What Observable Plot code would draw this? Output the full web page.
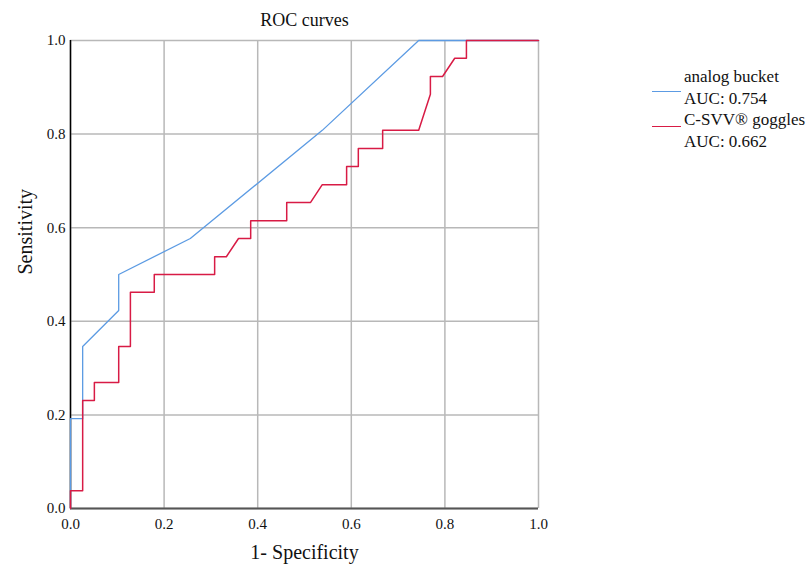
<!DOCTYPE html>
<html>
<head>
<meta charset="utf-8">
<script src="https://cdn.jsdelivr.net/npm/d3@7"></script>
<script src="https://cdn.jsdelivr.net/npm/@observablehq/plot@0.6"></script>
<style>
  html, body { margin: 0; padding: 0; background: #fff; }
  #wrap { position: relative; width: 810px; height: 564px; font-family: "Liberation Serif", "Times New Roman", serif; }
  #legend { position: absolute; left: 650px; top: 66px; font-size: 17px; line-height: 21.5px; color: #111; font-family: "Liberation Serif", serif; }
  .row { position: relative; padding-left: 34px; white-space: nowrap; }
  .sw { position: absolute; left: 2px; width: 29px; height: 0; border-top: 1.5px solid; }
</style>
</head>
<body>
<div id="wrap"></div>
<script>
// Data
const blueName = "analog bucket";
const blueAUC = "AUC: 0.754";
const blueX = [0, 0, 0.026, 0.026, 0.103, 0.103, 0.256, 0.538, 0.744, 1.0];
const blueY = [0, 0.192, 0.192, 0.346, 0.423, 0.5, 0.577, 0.808, 1.0, 1.0];

const redName = "C-SVV® goggles";
const redAUC = "AUC: 0.662";
const redX = [0, 0, 0.026, 0.026, 0.051, 0.051, 0.103, 0.103, 0.128, 0.128, 0.179, 0.179, 0.308, 0.308, 0.333, 0.359, 0.385, 0.385, 0.462, 0.462, 0.513, 0.538, 0.590, 0.590, 0.615, 0.615, 0.667, 0.667, 0.744, 0.769, 0.769, 0.795, 0.821, 0.846, 0.846, 1.0];
const redY = [0, 0.038, 0.038, 0.231, 0.231, 0.269, 0.269, 0.346, 0.346, 0.462, 0.462, 0.5, 0.5, 0.538, 0.538, 0.577, 0.577, 0.615, 0.615, 0.654, 0.654, 0.692, 0.692, 0.731, 0.731, 0.769, 0.769, 0.808, 0.808, 0.885, 0.923, 0.923, 0.962, 0.962, 1.0, 1.0];

const ticks = [0, 0.2, 0.4, 0.6, 0.8, 1.0];
const titleText = "ROC curves";
const xLabel = "1- Specificity";
const yLabel = "Sensitivity";

const blueColor = "#5c9be3";
const redColor = "#d81b45";
const serif = "'Liberation Serif', 'Times New Roman', serif";

const blue = blueX.map((x, i) => ({x, y: blueY[i]}));
const red = redX.map((x, i) => ({x, y: redY[i]}));

const chart = Plot.plot({
  width: 810,
  height: 564,
  marginLeft: 70,
  marginRight: 272,
  marginTop: 40,
  marginBottom: 56,
  style: {fontFamily: serif, fontSize: "15px", color: "#111", background: "#fff"},
  x: {domain: [0, 1], ticks: ticks},
  y: {domain: [0, 1], ticks: ticks},
  marks: [
    Plot.gridX(ticks, {stroke: "#b8b8b8", strokeOpacity: 1, strokeWidth: 1.5}),
    Plot.gridY(ticks, {stroke: "#b8b8b8", strokeOpacity: 1, strokeWidth: 1.5}),
    Plot.axisX(ticks, {tickSize: 0, tickPadding: 10, tickFormat: d3.format(".1f"), label: null, fontSize: 15, fontFamily: serif}),
    Plot.axisY(ticks, {tickSize: 0, tickPadding: 5, tickFormat: d3.format(".1f"), label: null, fontSize: 15, fontFamily: serif}),
    Plot.ruleX([0], {stroke: "#000", strokeWidth: 1.5}),
    Plot.ruleY([0], {stroke: "#555", strokeWidth: 2}),
    Plot.line(blue, {x: "x", y: "y", stroke: blueColor, strokeWidth: 1.3}),
    Plot.line(red, {x: "x", y: "y", stroke: redColor, strokeWidth: 1.5}),
    Plot.text([titleText], {frameAnchor: "top", dy: -20, lineAnchor: "middle", fontSize: 18, fill: "#111", fontFamily: serif}),
    Plot.text([xLabel], {frameAnchor: "bottom", dy: 44, lineAnchor: "middle", fontSize: 20, fill: "#111", fontFamily: serif}),
    Plot.text([yLabel], {frameAnchor: "left", dx: -45, rotate: -90, lineAnchor: "middle", fontSize: 20, fill: "#111", fontFamily: serif})
  ]
});

const wrap = document.getElementById("wrap");
wrap.appendChild(chart);

const legend = document.createElement("div");
legend.id = "legend";
const items = [[blueName, blueAUC, blueColor, 25], [redName, redAUC, redColor, 17]];
for (const [name, auc, color, off] of items) {
  for (const [j, t] of [name, auc].entries()) {
    const row = document.createElement("div");
    row.className = "row";
    row.textContent = t;
    if (j === 0) {
      const sw = document.createElement("span");
      sw.className = "sw";
      sw.style.borderTopColor = color;
      sw.style.top = off + "px";
      row.appendChild(sw);
    }
    legend.appendChild(row);
  }
}
wrap.appendChild(legend);
</script>
</body>
</html>
